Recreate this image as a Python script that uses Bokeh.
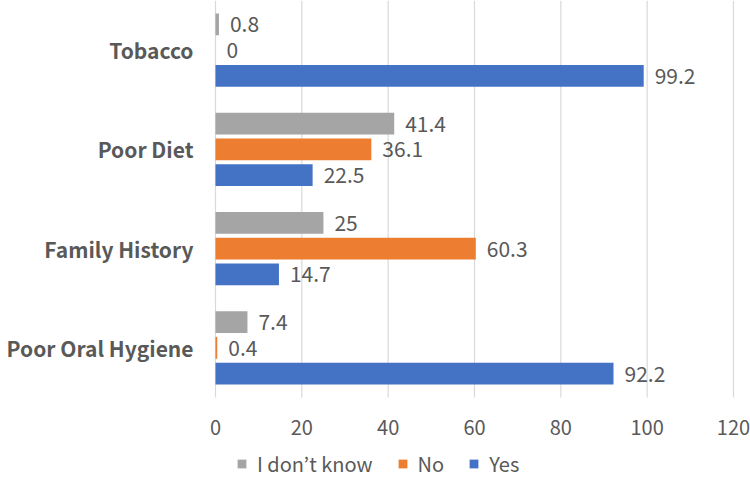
from bokeh.plotting import figure
from bokeh.models import ColumnDataSource, Range1d, Legend, LegendItem
from bokeh.core.properties import value
from bokeh.embed import file_html
from bokeh.resources import INLINE

# Data (categories listed bottom to top)
categories = ["Poor Oral Hygiene", "Family History", "Poor Diet", "Tobacco"]
yes_vals = [92.2, 14.7, 22.5, 99.2]
no_vals = [0.4, 60.3, 36.1, 0]
dont_know_vals = [7.4, 25, 41.4, 0.8]
series_names = ["I don\u2019t know", "No", "Yes"]
x_ticks = [0, 20, 40, 60, 80, 100, 120]

colors = {"I don\u2019t know": "#A5A5A5", "No": "#ED7D31", "Yes": "#4472C4"}
offsets = {"I don\u2019t know": 0.26, "No": 0.0, "Yes": -0.26}
series_vals = {"I don\u2019t know": dont_know_vals, "No": no_vals, "Yes": yes_vals}

FONT = "Noto Sans CJK JP"
TXT = "#595959"

# layout geometry (screen pixels)
PX_PER_CAT = 99.25
PX_PER_UNIT = 518 / 120
FRAME_W = 750
FRAME_H = 479
LEFT_PAD = 215
n = len(categories)

p = figure(frame_width=FRAME_W, frame_height=FRAME_H, output_backend="svg", toolbar_location=None,
           x_range=Range1d(-LEFT_PAD / PX_PER_UNIT, (FRAME_W - LEFT_PAD) / PX_PER_UNIT),
           y_range=Range1d(n - FRAME_H / PX_PER_CAT, n),
           min_border_left=0, min_border_right=0, min_border_top=0, min_border_bottom=0)
p.outline_line_color = None
p.background_fill_color = "white"
p.border_fill_color = "white"
p.xaxis.visible = False
p.yaxis.visible = False
p.xgrid.grid_line_color = None
p.ygrid.grid_line_color = None

# vertical gridlines over the category area
p.segment(x0=x_ticks, y0=[0] * len(x_ticks), x1=x_ticks, y1=[n] * len(x_ticks),
          line_color="#D9D9D9", line_width=1.2)

renderers = {}
for name in series_names:
    ys = [i + 0.5 + offsets[name] for i in range(n)]
    vals = series_vals[name]
    src = ColumnDataSource(dict(y=ys, right=vals,
                                label=[f"{v:g}" for v in vals]))
    r = p.hbar(y="y", left=0, right="right", height=0.22, source=src,
               fill_color=colors[name], line_color=None)
    renderers[name] = r
    p.text(x="right", y="y", text="label", source=src, x_offset=11,
           text_baseline="middle", text_align="left", text_color=TXT,
           text_font=value(FONT), text_font_size="21px")

# x tick labels
p.text(x=x_ticks, y=[0] * len(x_ticks), text=[str(t) for t in x_ticks],
       y_offset=30, text_baseline="middle", text_align="center", text_color=TXT,
       text_font=value(FONT), text_font_size="20px")

# category labels
p.text(x=[0] * n, y=[i + 0.5 for i in range(n)], text=categories,
       x_offset=-22, text_baseline="middle", text_align="right", text_color=TXT,
       text_font=value(FONT), text_font_size="21px", text_font_style="bold")

legend = Legend(items=[LegendItem(label=nm, renderers=[renderers[nm]]) for nm in series_names],
                orientation="horizontal", location=(236, 1),
                glyph_width=11, glyph_height=11, label_standoff=10, spacing=24,
                padding=0, margin=0, border_line_color=None, background_fill_alpha=0,
                label_text_font=FONT, label_text_font_size="20px", label_text_color=TXT,
                label_height=20)
p.add_layout(legend, "center")

open("out.html", "w").write(file_html(p, INLINE))
